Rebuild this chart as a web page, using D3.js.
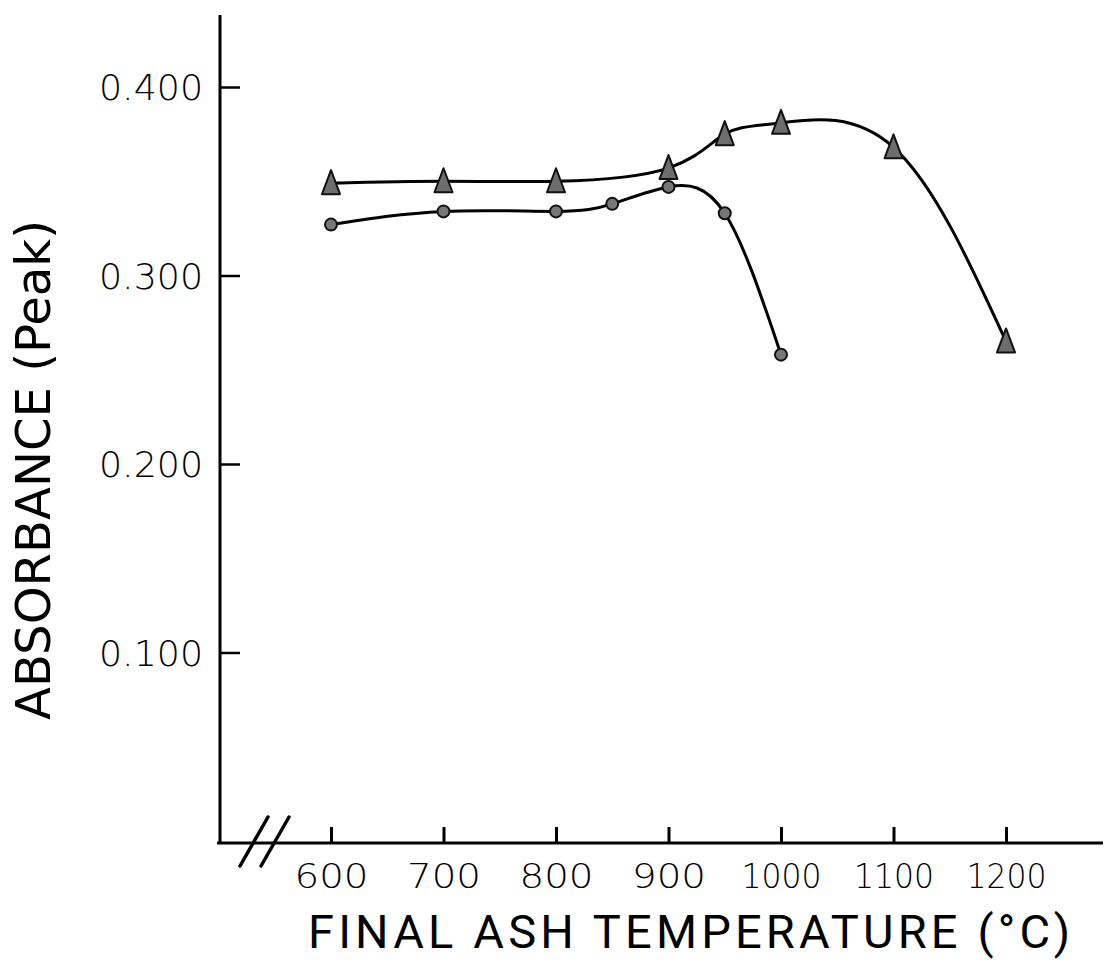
<!DOCTYPE html>
<html>
<head>
<meta charset="utf-8">
<script src="https://cdn.jsdelivr.net/npm/d3@7"></script>
<style>
    body { margin: 0; background: #fff; }
    .tick text { font-family: "DejaVu Sans", sans-serif; font-weight: 200; }
</style>
</head>
<body>
<svg id="chart" width="1106" height="963"></svg>
<script>
// temperatures (°C) and peak absorbance
let triTemps = [600, 700, 800, 900, 950, 1000, 1100, 1200];
let triValues = [0.349, 0.350, 0.350, 0.357, 0.375, 0.381, 0.368, 0.265];

let dotTemps = [600, 700, 800, 850, 900, 950, 1000];
let dotValues = [0.327, 0.334, 0.334, 0.338, 0.347, 0.333, 0.258];

let xTicks = [600, 700, 800, 900, 1000, 1100, 1200];
let yTicks = [0.1, 0.2, 0.3, 0.4];

let svg = d3.select('#chart');

let x = d3.scaleLinear().domain([600, 1200]).range([331, 1006]);
let y = d3.scaleLinear().domain([0, 0.4]).range([841, 87]);

let axisX0 = 220, axisY0 = 843;

// y axis
let yAxis = d3.axisLeft(y)
    .tickValues(yTicks)
    .tickSize(-20)
    .tickPadding(17)
    .tickFormat(d3.format('.3f'));

let gy = svg.append('g')
    .attr('transform', 'translate(' + axisX0 + ',0)')
    .call(yAxis);
gy.select('.domain').remove();
gy.selectAll('.tick line').attr('stroke', '#000').attr('stroke-width', 2.5);
gy.selectAll('.tick text')
    .attr('font-size', 35)
    .attr('dy', '0.36em')
    .attr('fill', '#000')
    .attr('textLength', 104)
    .attr('lengthAdjust', 'spacingAndGlyphs');

svg.append('line')
    .attr('x1', axisX0).attr('y1', 15)
    .attr('x2', axisX0).attr('y2', axisY0)
    .attr('stroke', '#000').attr('stroke-width', 3);

// x axis
let xAxis = d3.axisBottom(x)
    .tickValues(xTicks)
    .tickSize(-16)
    .tickPadding(21)
    .tickFormat(d3.format('d'));

let gx = svg.append('g')
    .attr('transform', 'translate(0,' + axisY0 + ')')
    .call(xAxis);
gx.select('.domain').remove();
gx.selectAll('.tick line').attr('stroke', '#000').attr('stroke-width', 3);
gx.selectAll('.tick text')
    .attr('font-size', 34)
    .attr('fill', '#000')
    .attr('textLength', d => d >= 1000 ? 80 : 74)
    .attr('lengthAdjust', 'spacingAndGlyphs');

svg.append('line')
    .attr('x1', axisX0 - 3).attr('y1', axisY0)
    .attr('x2', 1103).attr('y2', axisY0)
    .attr('stroke', '#000').attr('stroke-width', 3);

// axis break
[0, 21].forEach(off => {
    svg.append('line')
        .attr('x1', 240 + off).attr('y1', 866)
        .attr('x2', 268 + off).attr('y2', 817)
        .attr('stroke', '#000').attr('stroke-width', 3.5)
        .attr('stroke-linecap', 'round');
});

// titles
svg.append('text')
    .attr('transform', 'translate(50,470) rotate(-90)')
    .attr('text-anchor', 'middle')
    .attr('font-family', 'DejaVu Sans, sans-serif')
    .attr('font-size', 48)
    .attr('textLength', 500)
    .attr('lengthAdjust', 'spacingAndGlyphs')
    .text('ABSORBANCE  (Peak)');

svg.append('text')
    .attr('x', 308).attr('y', 948)
    .attr('font-family', 'Roboto, DejaVu Sans, sans-serif')
    .attr('font-size', 47)
    .attr('textLength', 762)
    .attr('lengthAdjust', 'spacing')
    .text('FINAL  ASH  TEMPERATURE  (°C)');

// curves
let line = d3.line()
    .x(d => x(d[0]))
    .y(d => y(d[1]))
    .curve(d3.curveNatural);

let triData = d3.zip(triTemps, triValues);
let dotData = d3.zip(dotTemps, dotValues);

svg.append('path')
    .datum(triData)
    .attr('d', line)
    .attr('fill', 'none').attr('stroke', '#000').attr('stroke-width', 3);

svg.append('path')
    .datum(dotData)
    .attr('d', line)
    .attr('fill', 'none').attr('stroke', '#000').attr('stroke-width', 3);

// markers
svg.append('g').selectAll('path')
    .data(triData)
    .enter().append('path')
    .attr('d', 'M0,-13 L9,11 L-9,11 Z')
    .attr('transform', d => 'translate(' + x(d[0]) + ',' + y(d[1]) + ')')
    .attr('fill', '#6e6e6e')
    .attr('stroke', '#111').attr('stroke-width', 2)
    .attr('stroke-linejoin', 'round');

svg.append('g').selectAll('circle')
    .data(dotData)
    .enter().append('circle')
    .attr('cx', d => x(d[0]))
    .attr('cy', d => y(d[1]))
    .attr('r', 6)
    .attr('fill', '#777')
    .attr('stroke', '#111').attr('stroke-width', 2);
</script>
</body>
</html>
